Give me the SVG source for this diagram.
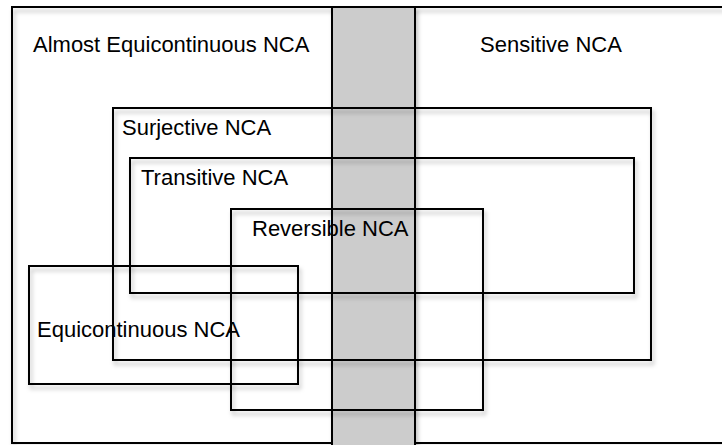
<svg xmlns="http://www.w3.org/2000/svg" width="722" height="445" viewBox="0 0 722 445">
<style>
  .box { fill: none; stroke: #000; stroke-width: 2; filter: url(#sh); }
  .band { fill: #cccccc; stroke: #000; stroke-width: 2; filter: url(#sh); }
  .lbl { font-family: "Liberation Sans", Arial, sans-serif; font-size: 22px; fill: #000; }
</style>
<defs>
  <filter id="sh" x="-10%" y="-10%" width="130%" height="130%">
    <feDropShadow dx="2" dy="4" stdDeviation="2" flood-color="#000" flood-opacity="0.25"/>
  </filter>
</defs>
<rect x="0" y="0" width="722" height="445" fill="#fff"/>
<g id="almost-equicontinuous">
  <rect class="box" x="12" y="7" width="730" height="436"/>
</g>
<g id="sensitive-band">
  <rect class="band" x="332" y="7" width="83" height="450"/>
</g>
<g id="surjective">
  <rect class="box" x="113" y="108" width="538" height="252"/>
</g>
<g id="transitive">
  <rect class="box" x="130" y="158" width="504" height="135"/>
</g>
<g id="reversible">
  <rect class="box" x="231" y="209" width="252" height="201"/>
</g>
<g id="equicontinuous">
  <rect class="box" x="29" y="266" width="269" height="118"/>
</g>
<g id="labels">
  <text class="lbl" x="33" y="52">Almost Equicontinuous NCA</text>
  <text class="lbl" x="480" y="52">Sensitive NCA</text>
  <text class="lbl" x="122" y="135">Surjective NCA</text>
  <text class="lbl" x="141" y="185">Transitive NCA</text>
  <text class="lbl" x="252" y="236">Reversible NCA</text>
  <text class="lbl" x="37" y="337">Equicontinuous NCA</text>
</g>
<g id="connectors"></g>
</svg>
